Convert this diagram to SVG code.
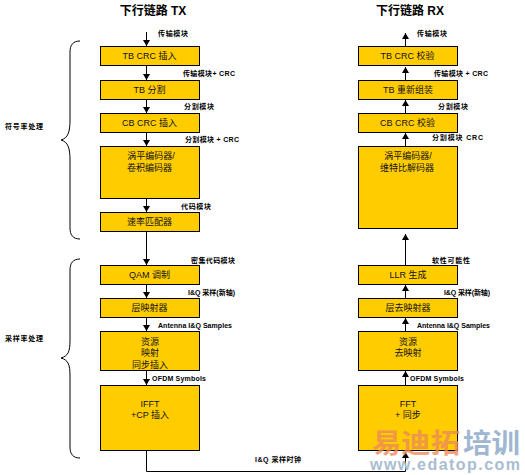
<svg xmlns="http://www.w3.org/2000/svg" width="525" height="475" viewBox="0 0 525 475">
<style>
.b{fill:#ffcc00;stroke:#000;stroke-width:1}
.t{font:9px "Liberation Sans","Noto Sans CJK SC",sans-serif;fill:#111;text-anchor:middle}
.l{font:bold 7px "Liberation Sans","Noto Sans CJK SC",sans-serif;fill:#000}
.h{font:bold 12px "Liberation Sans","Noto Sans CJK SC",sans-serif;fill:#000;text-anchor:middle}
.c{fill:none;stroke:#000;stroke-width:1}
.a{fill:none;stroke:#000;stroke-width:1;marker-end:url(#a)}
</style>
<defs><marker id="a" markerWidth="7" markerHeight="8" refX="6" refY="4" orient="auto" markerUnits="userSpaceOnUse"><path d="M0 .5L6 4L0 7.500z" fill="#000"/></marker></defs>
<rect width="525" height="475" fill="#fff"/>
<text class="h" x="153" y="15">下行链路 TX</text>
<text class="h" x="410" y="15">下行链路 RX</text>
<g id="connectors">
<path class="a" d="M146.500 32V46"/><path class="a" d="M146.500 65V80"/><path class="a" d="M146.500 99V113"/><path class="a" d="M146.500 132V146"/><path class="a" d="M146.500 198V212"/><path class="a" d="M146.500 231V265"/><path class="a" d="M146.500 284V298"/><path class="a" d="M146.500 317V331"/><path class="a" d="M146.500 370V385"/>
<path class="a" d="M405.500 46V33"/><path class="a" d="M405.500 80V67"/><path class="a" d="M405.500 113V100"/><path class="a" d="M405.500 146V133"/><path class="a" d="M405.500 265V234"/><path class="a" d="M405.500 298V285"/><path class="a" d="M405.500 331V318"/><path class="a" d="M405.500 385V371"/>
<path class="a" d="M146.500 450V471.500H405.500V452"/>
<path class="c" d="M80 41C73 41 70 45 70 52V120C70 132 68 138 61 140C68 142 70 148 70 160V228C70 235 73 239 80 239"/>
<path class="c" d="M80 259C73 259 70 263 70 270V340C70 352 68 356 61 358C68 360 70 364 70 376V447C70 454 73 458 80 458"/>
</g>
<g id="tx1"><rect class="b" x="100.500" y="46.500" width="99" height="19"/><text class="t" x="149.500" y="59">TB CRC 插入</text></g>
<g id="tx2"><rect class="b" x="100.500" y="80.500" width="99" height="19"/><text class="t" x="149.500" y="93">TB 分割</text></g>
<g id="tx3"><rect class="b" x="100.500" y="113.500" width="99" height="19"/><text class="t" x="149.500" y="126">CB CRC 插入</text></g>
<g id="tx4"><rect class="b" x="100.500" y="146.500" width="99" height="52"/><text class="t" x="151" y="159">涡平编码器/</text><text class="t" x="149.500" y="171">卷积编码器</text></g>
<g id="tx5"><rect class="b" x="100.500" y="212.500" width="99" height="19"/><text class="t" x="149.500" y="225">速率匹配器</text></g>
<g id="tx6"><rect class="b" x="100.500" y="265.500" width="99" height="19"/><text class="t" x="149.500" y="278">QAM 调制</text></g>
<g id="tx7"><rect class="b" x="100.500" y="298.500" width="99" height="19"/><text class="t" x="149.500" y="311">层映射器</text></g>
<g id="tx8"><rect class="b" x="100.500" y="331.500" width="99" height="39"/><text class="t" x="150" y="344.500">资源</text><text class="t" x="150" y="356">映射</text><text class="t" x="150" y="368">同步插入</text></g>
<g id="tx9"><rect class="b" x="100.500" y="385.500" width="99" height="65"/><text class="t" x="150" y="407">IFFT</text><text class="t" x="150" y="418">+CP 插入</text></g>
<g id="rx1"><rect class="b" x="358.500" y="46.500" width="99" height="19"/><text class="t" x="407.500" y="59">TB CRC 校验</text></g>
<g id="rx2"><rect class="b" x="358.500" y="80.500" width="99" height="19"/><text class="t" x="408" y="93">TB 重新组装</text></g>
<g id="rx3"><rect class="b" x="358.500" y="113.500" width="99" height="19"/><text class="t" x="407.500" y="126">CB CRC 校验</text></g>
<g id="rx4"><rect class="b" x="358.500" y="146.500" width="99" height="82"/><text class="t" x="408" y="159">涡平编码器/</text><text class="t" x="407" y="171">维特比解码器</text></g>
<g id="rx5"><rect class="b" x="358.500" y="265.500" width="99" height="19"/><text class="t" x="408" y="278">LLR 生成</text></g>
<g id="rx6"><rect class="b" x="358.500" y="298.500" width="99" height="19"/><text class="t" x="408" y="311">层去映射器</text></g>
<g id="rx7"><rect class="b" x="358.500" y="331.500" width="99" height="39"/><text class="t" x="408" y="344.500">资源</text><text class="t" x="408" y="356">去映射</text></g>
<g id="rx8"><rect class="b" x="358.500" y="385.500" width="99" height="65"/><text class="t" x="408" y="407">FFT</text><text class="t" x="408" y="418">+ 同步</text></g>
<g id="labels">
<text class="l" x="5" y="129" textLength="38">符号率处理</text>
<text class="l" x="5" y="341" textLength="38">采样率处理</text>
<text class="l" x="158" y="36" textLength="30">传输模块</text>
<text class="l" x="183" y="76" textLength="52">传输模块+ CRC</text>
<text class="l" x="184" y="109" textLength="30">分割模块</text>
<text class="l" x="185" y="142" textLength="54">分割模块 + CRC</text>
<text class="l" x="181" y="209" textLength="30">代码模块</text>
<text class="l" x="191" y="262.500" textLength="44">密集代码模块</text>
<text class="l" x="188" y="295" textLength="47">I&amp;Q 采样(新轴)</text>
<text class="l" x="158" y="328" textLength="74">Antenna I&amp;Q Samples</text>
<text class="l" x="152" y="381" textLength="54">OFDM Symbols</text>
<text class="l" x="255" y="461.500" textLength="46">I&amp;Q 采样时钟</text>
<text class="l" x="417" y="36" textLength="30">传输模块</text>
<text class="l" x="434" y="76" textLength="54">传输模块 + CRC</text>
<text class="l" x="438" y="109" textLength="30">分割模块</text>
<text class="l" x="432" y="140" textLength="51">分割模块  CRC</text>
<text class="l" x="432" y="262.500" textLength="38">软性可能性</text>
<text class="l" x="444" y="295" textLength="46">I&amp;Q 采样(新轴)</text>
<text class="l" x="417" y="328" textLength="73">Antenna I&amp;Q Samples</text>
<text class="l" x="410" y="381" textLength="54">OFDM Symbols</text>
</g>
<g id="watermark">
<text x="372" y="453" textLength="88" lengthAdjust="spacingAndGlyphs" style="font:bold 27px 'Noto Sans CJK SC',sans-serif;fill:#ee8a5a;fill-opacity:.8">易迪拓</text>
<text x="463" y="453" textLength="57" lengthAdjust="spacingAndGlyphs" style="font:bold 27px 'Noto Sans CJK SC',sans-serif;fill:#9fb7d0">培训</text>
<text x="370" y="470" textLength="150" style="font:bold 16px 'Liberation Sans',sans-serif;fill:#a9bdd2">www.edatop.com</text>
</g>
</svg>
